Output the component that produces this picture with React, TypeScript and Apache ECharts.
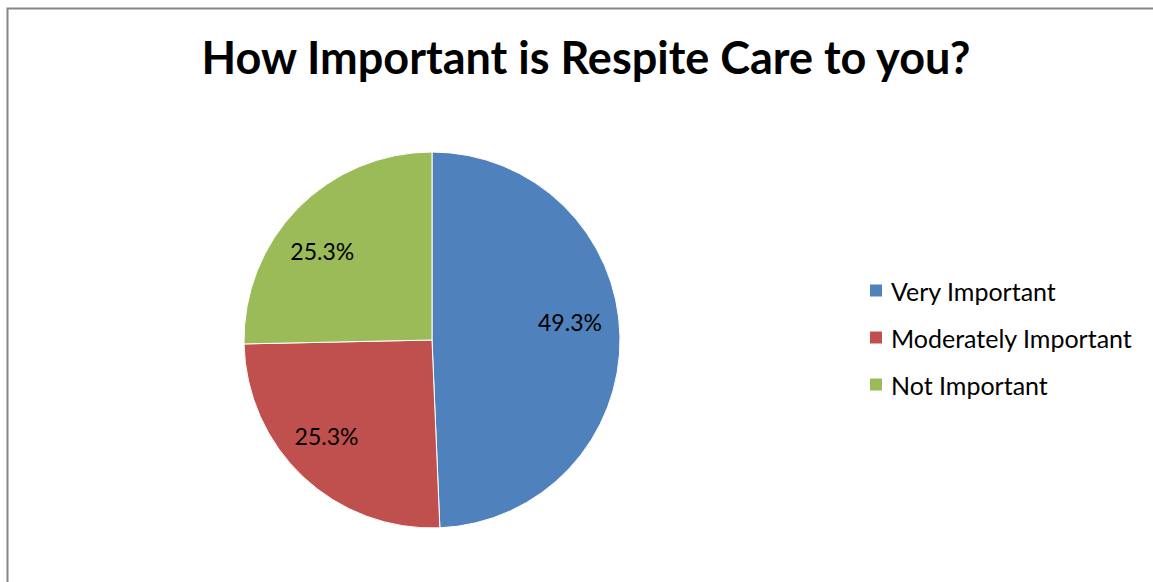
import React, { useEffect, useRef } from "react";
import * as echarts from "echarts";

const categories = ["Very Important", "Moderately Important", "Not Important"];
const counts = [37, 19, 19];
const colors = ["#4F81BD", "#C0504D", "#9BBB59"];
const titleText = "How Important is Respite Care to you?";
const labelNudges = [
  [-3, -15],
  [-9, -7],
  [-9, 10],
];

export default function App() {
  const ref = useRef<HTMLDivElement>(null);
  useEffect(() => {
    document.body.style.margin = "0";
    const chart = echarts.init(ref.current!, null, { renderer: "svg" });
    const data = categories.map((name, i) => ({ name, value: counts[i], itemStyle: { color: colors[i] } }));
    const font = "Lato, 'Open Sans', sans-serif";
    chart.setOption({
      animation: false,
      backgroundColor: "#ffffff",
      title: {
        text: titleText,
        left: 581,
        textAlign: "center",
        top: 29,
        textStyle: { fontFamily: font, fontSize: 45, fontWeight: "bold", color: "#000000" },
      },
      legend: {
        orient: "vertical",
        left: 868,
        top: 278,
        padding: 0,
        itemWidth: 14,
        itemHeight: 14,
        itemGap: 22,
        icon: "rect",
        data: categories,
        textStyle: { fontFamily: font, fontSize: 25, color: "#000000", padding: [0, 0, 0, 3] },
        selectedMode: false,
      },
      graphic: [
        {
          type: "rect",
          shape: { x: 7.5, y: 8.5, width: 1300, height: 700 },
          style: { fill: "none", stroke: "#868686", lineWidth: 2 },
          silent: true,
        },
      ],
      series: [
        {
          type: "pie",
          center: [432, 340],
          radius: [0, 188],
          startAngle: 90,
          clockwise: true,
          label: { show: false },
          labelLine: { show: false },
          itemStyle: { borderColor: "#ffffff", borderWidth: 1 },
          emphasis: { disabled: true },
          data,
        },
        {
          type: "pie",
          center: [432, 340],
          radius: [0, 276],
          startAngle: 90,
          clockwise: true,
          silent: true,
          legendHoverLink: false,
          itemStyle: { color: "transparent", opacity: 0 },
          label: {
            show: true,
            position: "inside",
            formatter: (p: any) => p.percent.toFixed(1) + "%",
            fontFamily: font,
            fontSize: 23,
            color: "#000000",
            opacity: 1,
          },
          labelLayout: (p: any) => ({ dx: labelNudges[p.dataIndex][0], dy: labelNudges[p.dataIndex][1] }),
          labelLine: { show: false },
          emphasis: { disabled: true },
          data: categories.map((name, i) => ({ name, value: counts[i], itemStyle: { opacity: 0 }, label: { opacity: 1 } })),
        },
      ],
    });
    return () => chart.dispose();
  }, []);
  return <div ref={ref} style={{ width: 1153, height: 582 }} />;
}
